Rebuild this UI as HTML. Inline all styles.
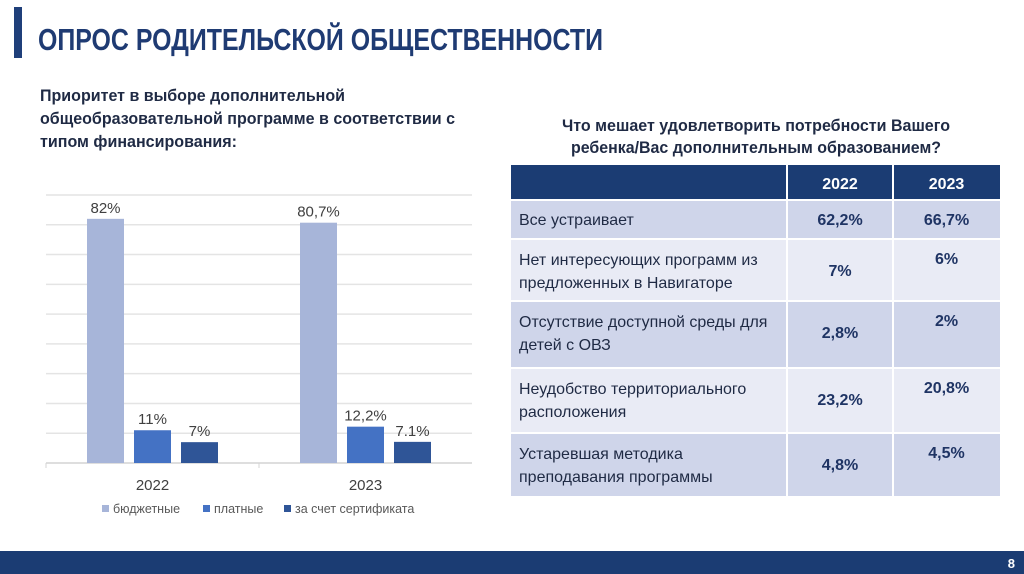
<!DOCTYPE html>
<html><head><meta charset="utf-8">
<style>
html,body{margin:0;padding:0;background:#fff;width:1024px;height:574px;overflow:hidden}
svg{display:block}
text{font-family:"Liberation Sans",sans-serif}
</style></head>
<body>
<svg id="s" width="1024" height="574" viewBox="0 0 1024 574" xmlns="http://www.w3.org/2000/svg">
<rect width="1024" height="574" fill="#fff"/>
<rect x="14" y="7" width="8" height="51" fill="#1f3f7a"/>
<text x="38" y="50" font-size="31" font-weight="bold" fill="#1f3b73" textLength="565" lengthAdjust="spacingAndGlyphs">ОПРОС РОДИТЕЛЬСКОЙ ОБЩЕСТВЕННОСТИ</text>
<g font-size="17" font-weight="bold" fill="#1f2a44">
<text x="40" y="101" textLength="305" lengthAdjust="spacingAndGlyphs">Приоритет в выборе дополнительной</text>
<text x="40" y="124" textLength="415" lengthAdjust="spacingAndGlyphs">общеобразовательной программе в соответствии с</text>
<text x="40" y="147" textLength="197" lengthAdjust="spacingAndGlyphs">типом финансирования:</text>
</g>
<g id="chart"></g>
<g font-size="17" font-weight="bold" fill="#1f2a44" text-anchor="middle">
<text x="756" y="131" textLength="388" lengthAdjust="spacingAndGlyphs">Что мешает удовлетворить потребности Вашего</text>
<text x="756" y="153" textLength="370" lengthAdjust="spacingAndGlyphs">ребенка/Вас дополнительным образованием?</text>
</g>
<g id="table"></g>
<rect x="0" y="551" width="1024" height="23" fill="#1b3c73"/>
<text x="1015" y="568" font-size="13" font-weight="bold" fill="#fff" text-anchor="end">8</text>
</svg>
<script>
const NS="http://www.w3.org/2000/svg";
const categories=["2022","2023"];
const seriesNames=["бюджетные","платные","за счет сертификата"];
const seriesColors=["#a7b5d9","#4472c4","#2f5597"];
const budget=[82,80.7];
const paid=[11,12.2];
const cert=[7,7.1];
const valueLabels=[["82%","80,7%"],["11%","12,2%"],["7%","7.1%"]];
const yMax=90, yStep=10;
const series=[budget,paid,cert];

const chart=document.getElementById('chart');
function mk(tag,attrs,parent){const e=document.createElementNS(NS,tag);for(const k in attrs)e.setAttribute(k,attrs[k]);(parent||chart).appendChild(e);return e;}
const plotL=46,plotR=472,plotT=195,plotB=463;
const y=v=>plotB-(v/yMax)*(plotB-plotT);
const catW=(plotR-plotL)/categories.length;
const x=i=>plotL+catW*i+catW/2;
const barW=37,gap=10;
for(let v=yStep;v<=yMax;v+=yStep){
  const g=mk('line',{x1:plotL,x2:plotR,y1:y(v),y2:y(v),stroke:'#e4e4e4','stroke-width':1.5});
  
  
}
const ax=mk('line',{x1:plotL,x2:plotR,y1:plotB,y2:plotB,stroke:'#d4d4d4','stroke-width':1.5});


categories.forEach((c,i)=>{
  const t=mk('line',{x1:plotL+catW*i,x2:plotL+catW*i,y1:plotB,y2:plotB+5,stroke:'#d4d4d4'});
  
  
  series.forEach((s,j)=>{
    const bx=x(i)+(j-1)*(barW+gap)-barW/2;
    const r=mk('rect',{x:bx,y:y(s[i]),width:barW,height:plotB-y(s[i]),fill:seriesColors[j]});
    
    
    const l=mk('text',{x:bx+barW/2,y:y(s[i])-6,'font-size':15,fill:'#404040','text-anchor':'middle'});
    l.textContent=valueLabels[j][i];
    
    
  });
  const cl=mk('text',{x:x(i),y:plotB+27,'font-size':15,fill:'#404040','text-anchor':'middle'});
  cl.textContent=c;
  
  
});
const legX=[102,203,284];
seriesNames.forEach((n,j)=>{
  const g=mk('g',{});
  
  
  mk('rect',{x:legX[j],y:505,width:7,height:7,fill:seriesColors[j]},g);
  const t=mk('text',{x:legX[j]+11,y:513,'font-size':12.5,fill:'#595959'},g);
  t.textContent=n;
});

const rows=[["Все устраивает"],["Нет интересующих программ из","предложенных в Навигаторе"],["Отсутствие доступной среды для","детей с ОВЗ"],["Неудобство территориального","расположения"],["Устаревшая методика","преподавания программы"]];
const v2022=["62,2%","7%","2,8%","23,2%","4,8%"];
const v2023=["66,7%","6%","2%","20,8%","4,5%"];
const tbl=document.getElementById('table');
const cx=[511,787,893,1000];
const ry=[165,200,239,301,368,433,496];
function tk(tag,attrs){return mk(tag,attrs,tbl);}
const h=tk('rect',{x:511,y:165,width:489,height:35,fill:'#1b3c73'});


["2022","2023"].forEach((t,k)=>{
  const e=tk('text',{x:(cx[k+1]+cx[k+2])/2,y:189,'font-size':16,'font-weight':'bold',fill:'#fff','text-anchor':'middle'});
  e.textContent=t;
  
  
});
rows.forEach((r,i)=>{
  const top=ry[i+1],bot=ry[i+2];
  const bg=tk('rect',{x:511,y:top,width:489,height:bot-top,fill:i%2==0?'#cfd5ea':'#e9ebf5'});
  
  
  r.forEach((line,k)=>{
    const t=tk('text',{x:519,y:(r.length==1?top+25:top+26+k*23),'font-size':16,fill:'#1f2a44'});
    t.textContent=line;
    
    
  });
  const a=tk('text',{x:(cx[1]+cx[2])/2,y:(r.length==1?top+25:top+37),'font-size':16,'font-weight':'bold',fill:'#1f3464','text-anchor':'middle'});
  a.textContent=v2022[i];
  
  
  const b=tk('text',{x:(cx[2]+cx[3])/2,y:top+25,'font-size':16,'font-weight':'bold',fill:'#1f3464','text-anchor':'middle'});
  b.textContent=v2023[i];
  
  
});
for(let i=1;i<=5;i++){tk('line',{x1:511,x2:1000,y1:ry[i],y2:ry[i],stroke:'#fff','stroke-width':2});}
[787,893].forEach(xx=>tk('line',{x1:xx,x2:xx,y1:165,y2:496,stroke:'#fff','stroke-width':2}));
</script>
</body></html>
